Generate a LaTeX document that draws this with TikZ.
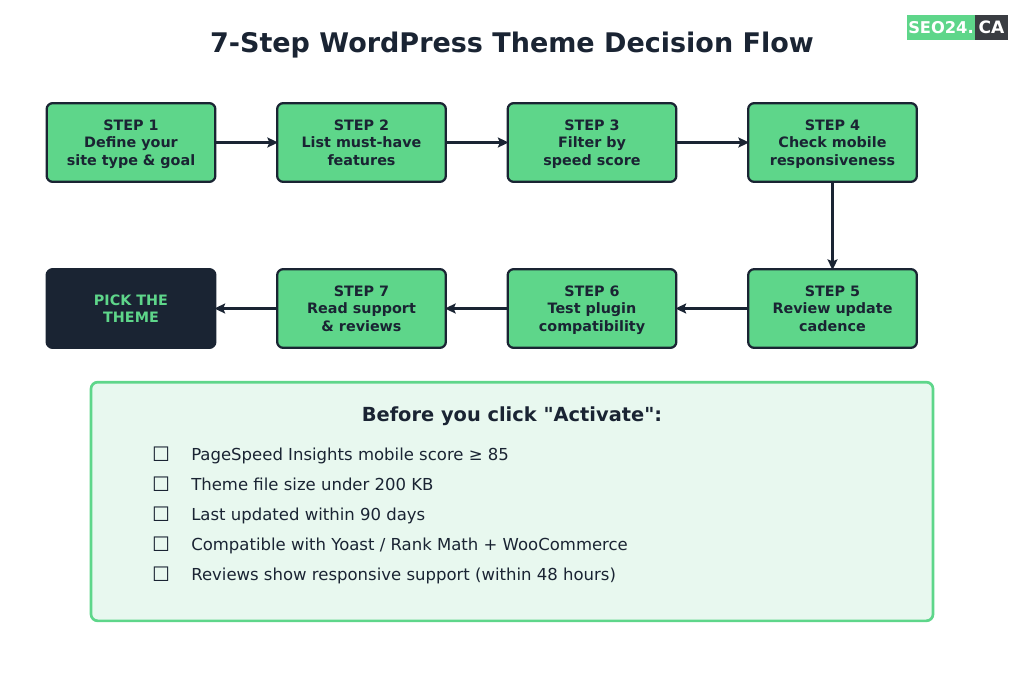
\documentclass[tikz,border=0pt]{standalone}
\usepackage{fontspec}
\setmainfont{DejaVu Sans}
\newfontfamily\plainfont{DejaVu Sans}
\definecolor{stepgreen}{HTML}{5ED68A}
\definecolor{darkink}{HTML}{1A2433}
\definecolor{panelgreen}{HTML}{E8F8EF}
\definecolor{logodark}{HTML}{3A3D42}
\tikzset{
  stepbox/.style = {draw=darkink, line width=1.7pt, fill=stepgreen, rounded corners=4.5pt, text=darkink, font=\bfseries\fontsize{10.75}{13.1}\selectfont, align=center, minimum width=126.5pt, minimum height=59pt, inner sep=0pt, text depth=0pt},
  endbox/.style = {stepbox, fill=darkink, text=stepgreen},
  flowarrow/.style = {draw=darkink, line width=2.25pt, shorten >=-1.5pt, -{Stealth[length=8pt,width=7.5pt,inset=1.5pt]}},
  checkrow/.style = {anchor=base west, inner sep=0pt, text=darkink, font=\fontsize{12.38}{15}\selectfont},
  checkglyph/.style = {anchor=base, inner sep=0pt, text=darkink, font=\fontsize{15}{15}\selectfont}
}
\usetikzlibrary{arrows.meta}
\begin{document}
\begin{tikzpicture}[x=0.75pt, y=-0.75pt]
\useasboundingbox (0,0) rectangle (1024,685);
\node[anchor=base, text=darkink, font=\bfseries\fontsize{20.25}{25}\selectfont] (title) at (512,53) {7-Step WordPress Theme Decision Flow};

% logo
\node[fill=stepgreen, minimum width=51pt, minimum height=18.75pt, inner sep=0pt, text=white, font=\bfseries\fontsize{12.2}{15}\selectfont] (logoa) at (941,27.5) {SEO24.};
\node[fill=logodark, minimum width=24.75pt, minimum height=18.75pt, inner sep=0pt, text=white, font=\bfseries\fontsize{12.8}{15}\selectfont] (logob) at (991.5,27.5) {CA};

% top row
\node[stepbox] (s1) at (131,142.5) {STEP 1\\Define your\\site type \& goal};
\node[stepbox] (s2) at (361.5,142.5) {STEP 2\\List must-have\\features};
\node[stepbox] (s3) at (592,142.5) {STEP 3\\Filter by\\speed score};
\node[stepbox] (s4) at (832.5,142.5) {STEP 4\\Check mobile\\responsiveness};

% bottom row
\node[stepbox] (s5) at (832.5,308.5) {STEP 5\\Review update\\cadence};
\node[stepbox] (s6) at (592,308.5) {STEP 6\\Test plugin\\compatibility};
\node[stepbox] (s7) at (361.5,308.5) {STEP 7\\Read support\\\& reviews};
\node[endbox] (pick) at (131,308.5) {PICK THE\\THEME};

\draw[flowarrow] (s1) -- (s2);
\draw[flowarrow] (s2) -- (s3);
\draw[flowarrow] (s3) -- (s4);
\draw[flowarrow] (s4) -- (s5);
\draw[flowarrow] (s5) -- (s6);
\draw[flowarrow] (s6) -- (s7);
\draw[flowarrow] (s7) -- (pick);

% checklist
\node[draw=stepgreen, line width=2pt, fill=panelgreen, rounded corners=5pt, minimum width=631.5pt, minimum height=179pt, inner sep=0pt] (panel) at (512,501.5) {};
\node[anchor=base, text=darkink, font=\plainfont\bfseries\fontsize{14.55}{17}\selectfont] (head) at (512,421.5) {Before you click "Activate":};
\foreach \ypos/\lbl in {454/{PageSpeed Insights mobile score ≥ 85}, 484/{Theme file size under 200 KB}, 514/{Last updated within 90 days}, 544/{Compatible with Yoast / Rank Math + WooCommerce}, 574/{Reviews show responsive support (within 48 hours)}} {
  \node[checkglyph] (box\ypos) at (161,\ypos+7.5) {☐};
  \node[checkrow] (item\ypos) at (191,\ypos+6.5) {\lbl};
}
\end{tikzpicture}
\end{document}
